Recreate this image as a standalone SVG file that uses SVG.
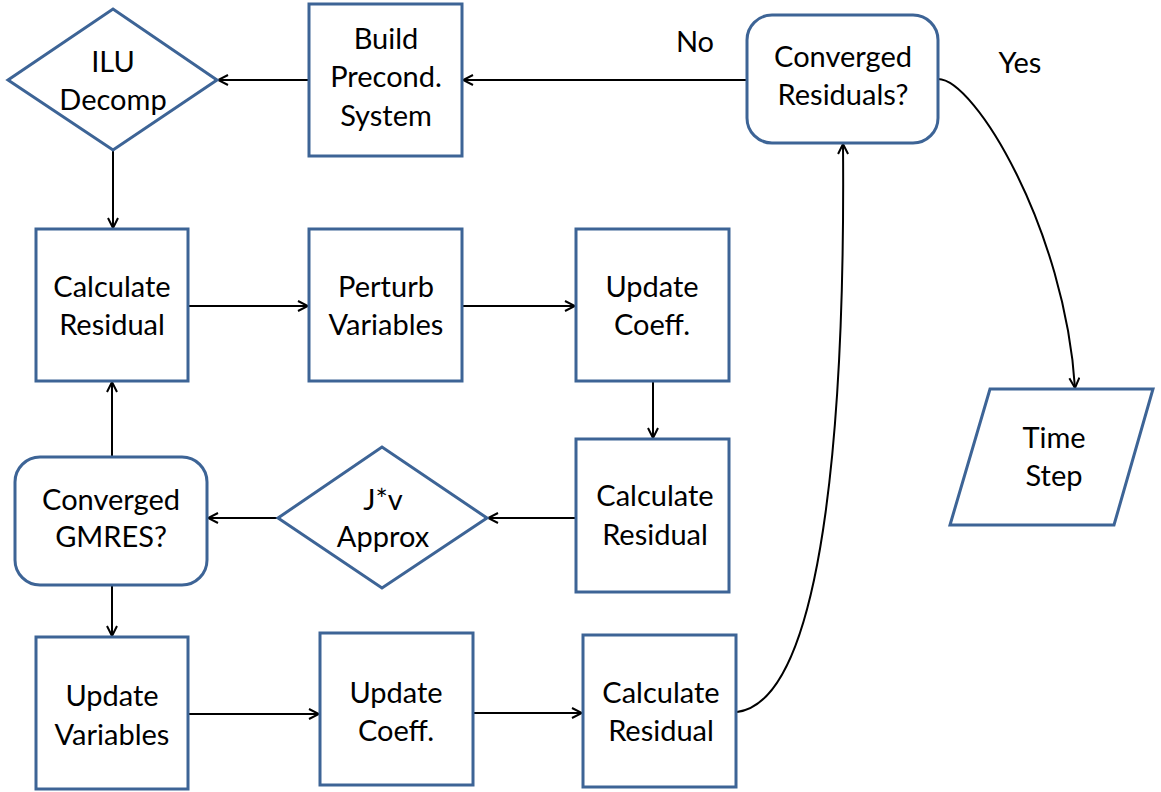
<svg xmlns="http://www.w3.org/2000/svg" width="1161" height="792" viewBox="0 0 1161 792">
<defs>
<marker id="arr" viewBox="0 0 12 12" refX="11" refY="6" markerWidth="12" markerHeight="12" markerUnits="userSpaceOnUse" orient="auto">
<path d="M1,1 L11,6 L1,11" fill="none" stroke="#000" stroke-width="2"/>
</marker>
<style>
.n{fill:#fff;stroke:#3d6496;stroke-width:3}
.t{font-family:Lato,"Open Sans",sans-serif;font-size:29px;fill:#000;text-anchor:middle}
.c{fill:none;stroke:#000;stroke-width:2;marker-end:url(#arr)}
</style>
</defs>
<rect width="1161" height="792" fill="#fff"/>
<g id="connectors">
<path class="c" d="M747,80 H463"/>
<path class="c" d="M309,80 H218"/>
<path class="c" d="M113,150 V228"/>
<path class="c" d="M188,306 H308"/>
<path class="c" d="M462,306 H575"/>
<path class="c" d="M653,381 V438"/>
<path class="c" d="M576,518 H488"/>
<path class="c" d="M278,518 H208"/>
<path class="c" d="M112,457 V382"/>
<path class="c" d="M112,585 V636"/>
<path class="c" d="M188,714 H319"/>
<path class="c" d="M473,713 H582"/>
<path class="c" d="M737,712 C830,700 845,380 843,144"/>
<path class="c" d="M938,79 C975,79 1065,230 1075,388"/>
</g>
<g id="ilu"><polygon class="n" points="8,80 113,9 217,80 113,150"/><text class="t" x="113" y="72">ILU</text><text class="t" x="113" y="110">Decomp</text></g>
<g id="build"><rect class="n" x="309" y="4" width="153" height="152"/><text class="t" x="386" y="49">Build</text><text class="t" x="386" y="87">Precond.</text><text class="t" x="386" y="126">System</text></g>
<g id="convres"><rect class="n" x="747" y="15" width="191" height="128" rx="25"/><text class="t" x="843" y="67">Converged</text><text class="t" x="843" y="105">Residuals?</text></g>
<g id="lblno"><text class="t" x="695" y="52">No</text></g>
<g id="lblyes"><text class="t" x="1020" y="73">Yes</text></g>
<g id="calc1"><rect class="n" x="36" y="229" width="152" height="152"/><text class="t" x="112" y="297">Calculate</text><text class="t" x="112" y="335">Residual</text></g>
<g id="perturb"><rect class="n" x="309" y="229" width="153" height="152"/><text class="t" x="386" y="297">Perturb</text><text class="t" x="386" y="335">Variables</text></g>
<g id="coeff1"><rect class="n" x="576" y="229" width="153" height="152"/><text class="t" x="652" y="297">Update</text><text class="t" x="652" y="335">Coeff.</text></g>
<g id="calc2"><rect class="n" x="576" y="439" width="153" height="153"/><text class="t" x="655" y="506">Calculate</text><text class="t" x="655" y="545">Residual</text></g>
<g id="jv"><polygon class="n" points="278,518 382,447 487,518 382,588"/><text class="t" x="383" y="510">J*v</text><text class="t" x="383" y="547">Approx</text></g>
<g id="gmres"><rect class="n" x="15" y="457" width="192" height="128" rx="25"/><text class="t" x="111" y="510">Converged</text><text class="t" x="111" y="547">GMRES?</text></g>
<g id="updvar"><rect class="n" x="36" y="637" width="152" height="152"/><text class="t" x="112" y="706">Update</text><text class="t" x="112" y="745">Variables</text></g>
<g id="coeff2"><rect class="n" x="320" y="633" width="153" height="152"/><text class="t" x="396" y="703">Update</text><text class="t" x="396" y="741">Coeff.</text></g>
<g id="calc3"><rect class="n" x="583" y="635" width="153" height="152"/><text class="t" x="661" y="703">Calculate</text><text class="t" x="661" y="741">Residual</text></g>
<g id="timestep"><polygon class="n" points="990,389 1153,389 1114,525 950,525"/><text class="t" x="1054" y="448">Time</text><text class="t" x="1054" y="486">Step</text></g>
</svg>
